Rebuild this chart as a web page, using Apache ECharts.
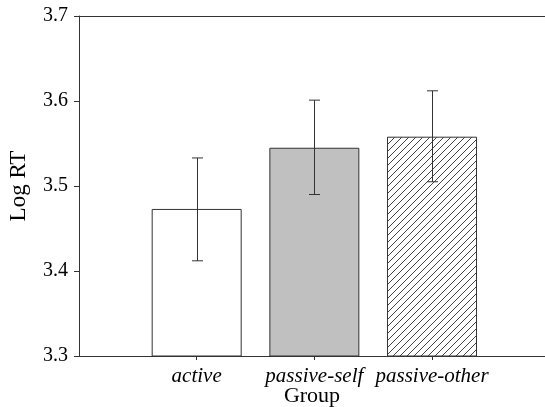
<!DOCTYPE html>
<html>
<head>
<meta charset="utf-8">
<script src="https://cdn.jsdelivr.net/npm/echarts@6/dist/echarts.min.js"></script>
<style>html,body{margin:0;padding:0;background:#fff;}#c{width:545px;height:407px;}</style>
</head>
<body>
<div id="c"></div>
<script>
const categories = ['active', 'passive-self', 'passive-other'];
const means = [3.473, 3.545, 3.558];
const upper = [3.533, 3.601, 3.612];
const lower = [3.412, 3.490, 3.505];
const yTicks = [3.3, 3.4, 3.5, 3.6, 3.7];

const FONT = 'Liberation Serif';
const LINE = '#333';

function hatch() {
  const s = 7;
  const c = document.createElement('canvas');
  c.width = s; c.height = s;
  const g = c.getContext('2d');
  g.fillStyle = '#fff'; g.fillRect(0, 0, s, s);
  g.strokeStyle = '#444'; g.lineWidth = 1;
  g.beginPath();
  g.moveTo(-1, s + 1); g.lineTo(s + 1, -1);
  g.moveTo(-1, 1); g.lineTo(1, -1);
  g.moveTo(s - 1, s + 1); g.lineTo(s + 1, s - 1);
  g.stroke();
  return c;
}

const fills = ['#ffffff', '#c0c0c0', { image: hatch(), repeat: 'repeat' }];

const barData = categories.map((c, i) => ({
  value: [i + 1, means[i]],
  itemStyle: { color: fills[i], borderColor: LINE, borderWidth: 1 }
}));
const errData = categories.map((c, i) => [i + 1, lower[i], upper[i]]);

const chart = echarts.init(document.getElementById('c'), null, { renderer: 'canvas' });
chart.setOption({
  animation: false,
  backgroundColor: '#fff',
  grid: { left: 79, top: 16, right: 0, bottom: 51, containLabel: false, outerBoundsMode: 'none' },
  xAxis: [{
    type: 'value', min: 0, max: 3.96, position: 'bottom',
    name: 'Group', nameLocation: 'middle', nameGap: 29, nameMoveOverlap: false,
    nameTextStyle: { fontFamily: FONT, fontSize: 22, color: '#000' },
    axisLine: { show: true, lineStyle: { color: LINE, width: 1 } },
    axisTick: { show: true, length: 4, customValues: [1, 2, 3], lineStyle: { color: LINE } },
    axisLabel: {
      customValues: [1, 2, 3], margin: 10,
      formatter: v => categories[Math.round(v) - 1] || '',
      fontFamily: FONT, fontStyle: 'italic', fontSize: 21, color: '#000'
    },
    splitLine: { show: false }
  }, {
    type: 'value', min: 0, max: 3.96, position: 'top',
    axisLine: { show: true, lineStyle: { color: LINE, width: 1 } },
    axisTick: { show: false }, axisLabel: { show: false }, splitLine: { show: false }
  }],
  yAxis: {
    type: 'value', min: 3.3, max: 3.7, interval: 0.1,
    name: 'Log RT', nameLocation: 'middle', nameGap: 49, nameMoveOverlap: false,
    nameTextStyle: { fontFamily: FONT, fontSize: 23, color: '#000' },
    axisLine: { show: true, lineStyle: { color: LINE, width: 1 } },
    axisTick: { show: true, length: 5, inside: false, lineStyle: { color: LINE } },
    axisLabel: { margin: 11, formatter: v => v.toFixed(1), fontFamily: FONT, fontSize: 20, color: '#000' },
    splitLine: { show: false }
  },
  series: [{
    type: 'bar', barWidth: 90, data: barData, xAxisIndex: 0
  }, {
    type: 'custom', xAxisIndex: 0, data: errData, z: 10,
    renderItem: (params, api) => {
      const x = api.value(0);
      const lo = api.coord([x, api.value(1)]);
      const hi = api.coord([x, api.value(2)]);
      const cx = Math.round(lo[0]) + 0.5;
      const hw = 5.5;
      const st = { stroke: LINE, lineWidth: 1, fill: null };
      return {
        type: 'group',
        children: [
          { type: 'line', shape: { x1: cx, y1: hi[1], x2: cx, y2: lo[1] }, style: st },
          { type: 'line', shape: { x1: cx - hw, y1: hi[1], x2: cx + hw, y2: hi[1] }, style: st },
          { type: 'line', shape: { x1: cx - hw, y1: lo[1], x2: cx + hw, y2: lo[1] }, style: st }
        ]
      };
    }
  }]
});
</script>
</body>
</html>
